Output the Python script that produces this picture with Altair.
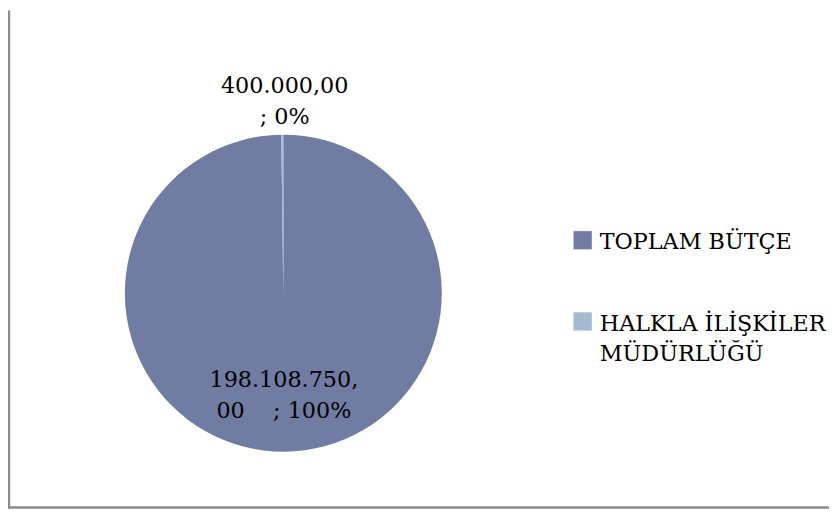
import altair as alt
import pandas as pd

categories = ["TOPLAM BÜTÇE", "HALKLA İLİŞKİLER MÜDÜRLÜĞÜ"]
values = [198108750.00, 400000.00]
slice_labels = ["198.108.750,\n00\u00a0\u00a0\u00a0\u00a0; 100%", "400.000,00\n; 0%"]
legend_lines = {"HALKLA İLİŞKİLER MÜDÜRLÜĞÜ": ["HALKLA İLİŞKİLER", "MÜDÜRLÜĞÜ"]}
colors = ["#707CA2", "#A3BAD2"]

df = pd.DataFrame({"category": categories, "value": values, "label": slice_labels})

expr_parts = []
for k, lines in legend_lines.items():
    arr = "[" + ", ".join("'" + s + "'" for s in lines) + "]"
    expr_parts.append(f"datum.label == '{k}' ? {arr} : ")
label_expr = "".join(expr_parts) + "datum.label"

FONT = "DejaVu Serif"
FS = 22.5
CX, CY = 278, 285.5

base = (
    alt.Chart(df)
    .transform_window(idx="row_number()")
    .transform_joinaggregate(total="sum(value)")
    .transform_calculate(lr="datum.value / datum.total < 0.05 ? 209 : 88")
)

arc = base.mark_arc(outerRadius=160).encode(
    theta=alt.Theta("value:Q", stack=True),
    color=alt.Color(
        "category:N",
        scale=alt.Scale(domain=categories, range=colors),
        legend=alt.Legend(
            orient="none",
            legendX=569,
            legendY=230,
            title=None,
            symbolType="M-1,-2H1V0H-1Z",
            symbolSize=340,
            symbolStrokeWidth=0,
            labelFont=FONT,
            labelFontSize=FS,
            labelColor="black",
            labelBaseline="alphabetic",
            labelLimit=400,
            labelOffset=6,
            rowPadding=58,
            padding=0,
            labelExpr=label_expr,
        ),
    ),
    order=alt.Order("idx:Q"),
    x=alt.value(CX),
    y=alt.value(CY),
)

text = base.mark_text(
    font=FONT, fontSize=FS, lineBreak="\n", lineHeight=31,
    color="black", baseline="middle", align="center",
).encode(
    theta=alt.Theta("value:Q", stack=True),
    radius=alt.Radius("lr:Q", scale=None),
    text="label:N",
    order=alt.Order("idx:Q"),
    x=alt.value(CX),
    y=alt.value(CY),
)

frame_df = pd.DataFrame({"f": [0]})
left = alt.Chart(frame_df).mark_rule(color="#8C8C8C", strokeWidth=2.5).encode(
    x=alt.value(1), y=alt.value(0), y2=alt.value(503)
)
bottom = alt.Chart(frame_df).mark_rule(color="#8C8C8C", strokeWidth=2.5).encode(
    x=alt.value(0), x2=alt.value(829), y=alt.value(502)
)

chart = (
    alt.layer(arc, text, left, bottom)
    .properties(width=829, height=504, autosize="none", padding=0)
    .configure(style={"guide-label": {"lineHeight": 31}}, view={"strokeWidth": 0})
)

chart.save("out.html", embed_options={"renderer": "svg", "actions": False})
